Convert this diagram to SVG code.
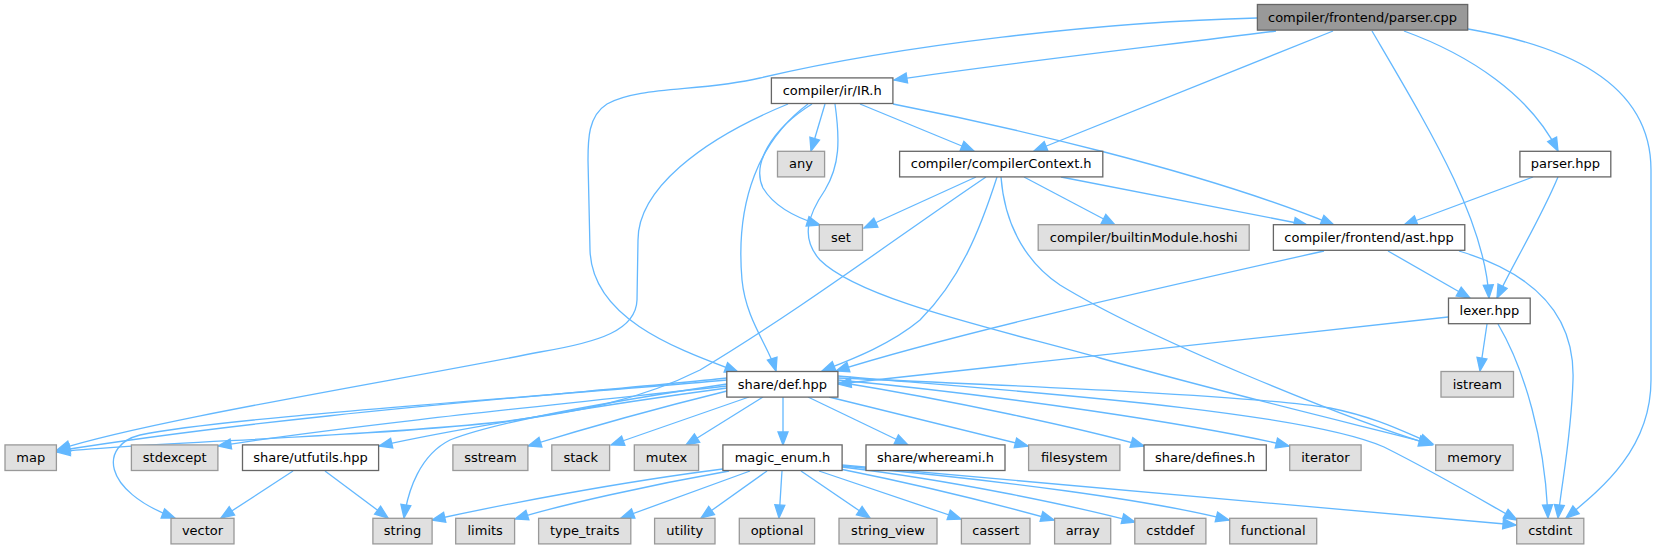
<svg xmlns="http://www.w3.org/2000/svg" width="1657" height="549" viewBox="0 0 1657 549">
<style>
.n rect{fill:#ffffff;stroke:#666666;stroke-width:1.3}
.g rect{fill:#e0e0e0;stroke:#999999;stroke-width:1.3}
.r rect{fill:#999999;stroke:#666666;stroke-width:1.3}
text{font-family:"DejaVu Sans","Liberation Sans",sans-serif;font-size:13px;fill:#000000;text-anchor:middle}
.e{fill:none;stroke:#63b8ff;stroke-width:1.3}
.ah{fill:#63b8ff;stroke:#63b8ff;stroke-width:1.3;stroke-linejoin:miter}
</style>
<rect x="0" y="0" width="1657" height="549" fill="#ffffff"/>
<g id="edges">
<path class="e" d="M1276,31 C1150,47 1000,64 894,80"/>
<path class="e" d="M1333,31 L1034,151"/>
<path class="e" d="M1372,31 C1430,130 1485,220 1489,298"/>
<path class="e" d="M1404,31 C1470,55 1530,95 1558,151"/>
<path class="e" d="M1468,29 C1560,45 1651,80 1651,170 L1651,380 C1651,450 1600,490 1566,518"/>
<path class="e" d="M1257,18 C1100,22 900,45 760,78 C700,92 640,86 607,104 C588,116 588,140 588,160 L590,250 C592,320 680,350 738,372"/>
<path class="e" d="M808,104 C760,140 735,200 742,280 C746,320 768,345 776,371"/>
<path class="e" d="M812,104 C770,130 752,165 763,188 C775,208 800,219 820,225"/>
<path class="e" d="M825,104 L811,151"/>
<path class="e" d="M835,104 C840,140 840,165 825,190 C808,215 800,238 820,260 C860,300 1000,330 1100,358 C1250,400 1380,430 1432,444"/>
<path class="e" d="M788,104 C700,140 638,190 638,240 L637,300 C636,330 600,342 540,352 C400,380 150,420 57,450"/>
<path class="e" d="M860,104 L974,151"/>
<path class="e" d="M893,104 C1000,125 1200,170 1334,225"/>
<path class="e" d="M976,177 L864,228"/>
<path class="e" d="M986,177 C900,235 800,310 700,370 C640,400 580,412 500,422 C350,438 150,442 57,452"/>
<path class="e" d="M997,177 C980,230 960,280 920,320 C890,345 850,360 822,371"/>
<path class="e" d="M1001,177 C1005,230 1030,265 1060,285 C1150,340 1350,420 1432,445"/>
<path class="e" d="M1024,177 L1115,225"/>
<path class="e" d="M1061,177 L1307,225"/>
<path class="e" d="M1533,177 L1404,225"/>
<path class="e" d="M1558,177 C1540,220 1515,260 1497,298"/>
<path class="e" d="M1324,251 C1150,290 950,335 836,371"/>
<path class="e" d="M1388,251 L1470,298"/>
<path class="e" d="M1459,251 C1540,275 1575,320 1573,380 C1571,440 1562,480 1558,518"/>
<path class="e" d="M1448,317 L838,384"/>
<path class="e" d="M1487,324 L1480,371"/>
<path class="e" d="M1498,324 C1525,370 1545,440 1548,518"/>
<path class="e" d="M727,378 C600,392 300,412 57,451"/>
<path class="e" d="M727,380 C500,400 220,418 140,435 C100,445 100,490 175,518"/>
<path class="e" d="M727,386 C600,400 350,425 218,446"/>
<path class="e" d="M727,388 C600,405 450,430 379,446"/>
<path class="e" d="M727,384 C620,400 500,420 450,440 C420,455 408,490 404,518"/>
<path class="e" d="M727,391 C650,410 580,430 528,446"/>
<path class="e" d="M749,397 L611,445"/>
<path class="e" d="M763,397 L686,445"/>
<path class="e" d="M783,397 L783,445"/>
<path class="e" d="M808,397 L908,445"/>
<path class="e" d="M829,397 L1028,446"/>
<path class="e" d="M838,382 C950,400 1080,428 1144,446"/>
<path class="e" d="M838,380 C1000,395 1200,425 1289,446"/>
<path class="e" d="M838,378 C1000,385 1250,395 1330,408 C1380,418 1410,435 1433,444"/>
<path class="e" d="M838,376 C1000,390 1300,410 1384,447 C1440,475 1490,505 1517,520"/>
<path class="e" d="M293,471 L221,518"/>
<path class="e" d="M325,471 L388,518"/>
<path class="e" d="M723,469 C620,482 500,505 432,520"/>
<path class="e" d="M729,471 C650,485 560,505 515,519"/>
<path class="e" d="M750,471 L621,518"/>
<path class="e" d="M767,471 L701,518"/>
<path class="e" d="M782,471 L779,518"/>
<path class="e" d="M801,471 L870,518"/>
<path class="e" d="M819,471 L961,519"/>
<path class="e" d="M840,469 C920,485 1000,505 1054,520"/>
<path class="e" d="M842,467 C950,480 1070,505 1135,522"/>
<path class="e" d="M842,466 C1000,480 1150,500 1229,520"/>
<path class="e" d="M842,465 C1100,490 1350,510 1516,525"/>
<path class="ah" d="M894,80 L906.1,73.1 L907.6,83 Z M1034,151 L1044.2,141.5 L1047.9,150.8 Z M1489,298 L1483.3,285.3 L1493.3,284.8 Z M1558,151 L1547.7,141.6 L1556.6,137.1 Z M1566,518 L1572.9,505.9 L1579.2,513.6 Z M738,372 L724.1,372.1 L727.6,362.7 Z M776,371 L767.4,360 L777,357.1 Z M820,225 L806.1,226.1 L809,216.5 Z M811,151 L809.9,137.1 L819.5,140 Z M1432,444 L1418.2,445.4 L1420.8,435.8 Z M57,450 L67.8,441.2 L70.9,450.8 Z M974,151 L960.1,150.7 L963.9,141.4 Z M1334,225 L1320.1,224.7 L1323.9,215.4 Z M864,228 L873.8,218.1 L877.9,227.2 Z M57,452 L69.4,445.7 L70.5,455.6 Z M822,371 L832.3,361.6 L835.9,370.9 Z M1432,445 L1418.1,446 L1421,436.4 Z M1115,225 L1101.2,223.4 L1105.8,214.5 Z M1307,225 L1293.3,227.4 L1295.2,217.6 Z M1404,225 L1414.4,215.8 L1417.9,225.2 Z M1497,298 L1498,284.1 L1507.1,288.4 Z M836,371 L846.9,362.3 L849.9,371.9 Z M1470,298 L1456.2,295.9 L1461.2,287.2 Z M1558,518 L1554.4,504.6 L1564.3,505.6 Z M838,384 L850.4,377.6 L851.5,387.5 Z M1480,371 L1477,357.4 L1486.9,358.9 Z M1548,518 L1542.5,505.2 L1552.5,504.8 Z M57,451 L69.1,444 L70.6,453.9 Z M175,518 L161.1,518.1 L164.6,508.8 Z M218,446 L230.1,439 L231.6,448.9 Z M379,446 L390.6,438.3 L392.8,448 Z M404,518 L400.9,504.4 L410.8,505.8 Z M528,446 L539,437.4 L541.9,447 Z M611,445 L621.6,436 L624.9,445.4 Z M686,445 L694.4,433.9 L699.7,442.4 Z M783,445 L778,432 L788,432 Z M908,445 L894.1,443.9 L898.4,434.9 Z M1028,446 L1014.2,447.8 L1016.6,438 Z M1144,446 L1130.1,447.3 L1132.8,437.7 Z M1289,446 L1275.2,447.9 L1277.5,438.1 Z M1433,444 L1419.1,443.9 L1422.7,434.6 Z M1517,520 L1503.2,518.1 L1508.1,509.3 Z M221,518 L229.2,506.7 L234.6,515.1 Z M388,518 L374.6,514.2 L380.6,506.2 Z M432,520 L443.6,512.3 L445.8,522.1 Z M515,519 L525.9,510.4 L528.9,519.9 Z M621,518 L631.5,508.9 L634.9,518.2 Z M701,518 L708.7,506.4 L714.5,514.5 Z M779,518 L774.8,504.7 L784.8,505.4 Z M870,518 L856.4,514.8 L862.1,506.5 Z M961,519 L947.1,519.6 L950.3,510.1 Z M1054,520 L1040.1,521.3 L1042.8,511.7 Z M1135,522 L1121.2,523.5 L1123.7,513.9 Z M1229,520 L1215.2,521.7 L1217.6,512 Z M1516,525 L1502.6,528.8 L1503.5,518.8 Z"/>
</g>
<g id="n_parser_cpp" class="r"><rect x="1257.4" y="4.5" width="210.3" height="25.6"/><text x="1362.5" y="21.5">compiler/frontend/parser.cpp</text></g>
<g id="n_ir_h" class="n"><rect x="771.4" y="77.9" width="121.5" height="25.6"/><text x="832.2" y="94.9">compiler/ir/IR.h</text></g>
<g id="n_any" class="g"><rect x="777.5" y="151.3" width="47.1" height="25.6"/><text x="801" y="168.3">any</text></g>
<g id="n_compilerContext" class="n"><rect x="899.6" y="151.3" width="203.2" height="25.6"/><text x="1001.2" y="168.3">compiler/compilerContext.h</text></g>
<g id="n_parser_hpp" class="n"><rect x="1519.9" y="151.3" width="90.9" height="25.6"/><text x="1565.4" y="168.3">parser.hpp</text></g>
<g id="n_set" class="g"><rect x="819.3" y="224.7" width="43.2" height="25.6"/><text x="840.9" y="241.7">set</text></g>
<g id="n_builtinModule" class="g"><rect x="1038.2" y="224.7" width="211" height="25.6"/><text x="1143.7" y="241.7">compiler/builtinModule.hoshi</text></g>
<g id="n_ast_hpp" class="n"><rect x="1273.4" y="224.7" width="191.4" height="25.6"/><text x="1369.1" y="241.7">compiler/frontend/ast.hpp</text></g>
<g id="n_lexer_hpp" class="n"><rect x="1448.5" y="298.1" width="81.7" height="25.6"/><text x="1489.4" y="315.1">lexer.hpp</text></g>
<g id="n_def_hpp" class="n"><rect x="726.8" y="371.5" width="111.1" height="25.6"/><text x="782.4" y="388.5">share/def.hpp</text></g>
<g id="n_istream" class="g"><rect x="1441" y="371.5" width="72.5" height="25.6"/><text x="1477.3" y="388.5">istream</text></g>
<g id="n_map" class="g"><rect x="5" y="444.9" width="51.4" height="25.6"/><text x="30.7" y="461.9">map</text></g>
<g id="n_stdexcept" class="g"><rect x="131.4" y="444.9" width="86.5" height="25.6"/><text x="174.7" y="461.9">stdexcept</text></g>
<g id="n_utfutils" class="n"><rect x="242.5" y="444.9" width="136.1" height="25.6"/><text x="310.5" y="461.9">share/utfutils.hpp</text></g>
<g id="n_sstream" class="g"><rect x="452.9" y="444.9" width="75" height="25.6"/><text x="490.4" y="461.9">sstream</text></g>
<g id="n_stack" class="g"><rect x="551.8" y="444.9" width="57.8" height="25.6"/><text x="580.7" y="461.9">stack</text></g>
<g id="n_mutex" class="g"><rect x="634.3" y="444.9" width="64.3" height="25.6"/><text x="666.5" y="461.9">mutex</text></g>
<g id="n_magic_enum" class="n"><rect x="722.9" y="444.9" width="119.2" height="25.6"/><text x="782.5" y="461.9">magic_enum.h</text></g>
<g id="n_whereami" class="n"><rect x="866" y="444.9" width="139" height="25.6"/><text x="935.5" y="461.9">share/whereami.h</text></g>
<g id="n_filesystem" class="g"><rect x="1028.6" y="444.9" width="91.3" height="25.6"/><text x="1074.3" y="461.9">filesystem</text></g>
<g id="n_defines" class="n"><rect x="1144" y="444.9" width="122.3" height="25.6"/><text x="1205.2" y="461.9">share/defines.h</text></g>
<g id="n_iterator" class="g"><rect x="1289.7" y="444.9" width="71.4" height="25.6"/><text x="1325.4" y="461.9">iterator</text></g>
<g id="n_memory" class="g"><rect x="1435.7" y="444.9" width="77.4" height="25.6"/><text x="1474.4" y="461.9">memory</text></g>
<g id="n_vector" class="g"><rect x="171" y="518.3" width="63" height="25.6"/><text x="202.5" y="535.3">vector</text></g>
<g id="n_string" class="g"><rect x="372.9" y="518.3" width="59.2" height="25.6"/><text x="402.5" y="535.3">string</text></g>
<g id="n_limits" class="g"><rect x="455.7" y="518.3" width="58.9" height="25.6"/><text x="485.2" y="535.3">limits</text></g>
<g id="n_type_traits" class="g"><rect x="538.6" y="518.3" width="92.2" height="25.6"/><text x="584.7" y="535.3">type_traits</text></g>
<g id="n_utility" class="g"><rect x="654.6" y="518.3" width="60.4" height="25.6"/><text x="684.8" y="535.3">utility</text></g>
<g id="n_optional" class="g"><rect x="739.3" y="518.3" width="75.3" height="25.6"/><text x="777" y="535.3">optional</text></g>
<g id="n_string_view" class="g"><rect x="839" y="518.3" width="98" height="25.6"/><text x="888" y="535.3">string_view</text></g>
<g id="n_cassert" class="g"><rect x="961.4" y="518.3" width="68.6" height="25.6"/><text x="995.7" y="535.3">cassert</text></g>
<g id="n_array" class="g"><rect x="1054.6" y="518.3" width="56.1" height="25.6"/><text x="1082.7" y="535.3">array</text></g>
<g id="n_cstddef" class="g"><rect x="1134.8" y="518.3" width="71.1" height="25.6"/><text x="1170.4" y="535.3">cstddef</text></g>
<g id="n_functional" class="g"><rect x="1229.7" y="518.3" width="87" height="25.6"/><text x="1273.2" y="535.3">functional</text></g>
<g id="n_cstdint" class="g"><rect x="1516.7" y="518.3" width="67.1" height="25.6"/><text x="1550.3" y="535.3">cstdint</text></g>
</svg>
